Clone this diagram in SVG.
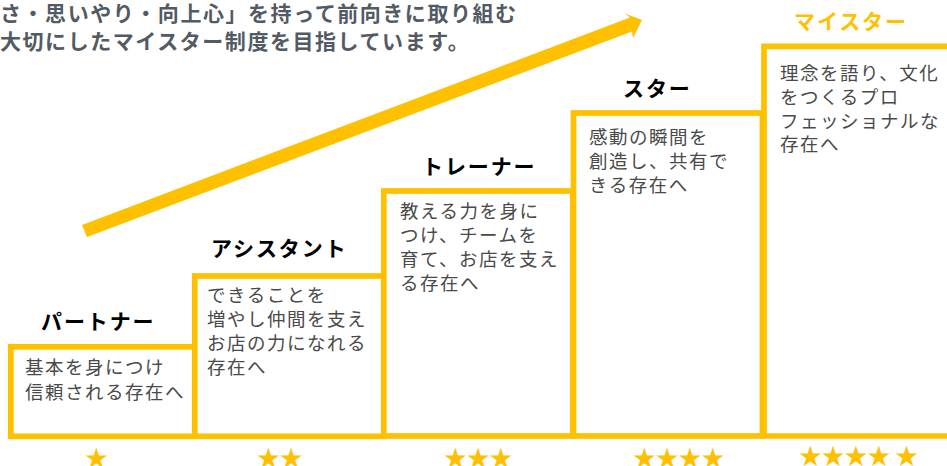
<svg xmlns="http://www.w3.org/2000/svg" width="947" height="466" viewBox="0 0 947 466">
<style>
text{font-family:"Noto Sans CJK JP","Noto Sans",sans-serif}
.box{fill:#fff;stroke:#ffc000;stroke-width:5.7}
.b{font-size:18.500px;letter-spacing:1.5px;fill:#4a4a4a}
.t{font-size:21px;font-weight:700;letter-spacing:1.900px;fill:#000}
.h{font-size:21px;font-weight:700;letter-spacing:1.550px;fill:#525a63}
.s{font-size:22.800px;fill:#ffc000}
</style>
<rect width="947" height="466" fill="#fff"/>
<g id="intro"><text class="h" x="0" y="21">さ・思いやり・向上心」を持って前向きに取り組む</text><text class="h" x="0" y="49">大切にしたマイスター制度を目指しています。</text></g>
<g id="connectors"><path d="M82 225L630 17.500L625 13.500L642 20L633 38L632 31.500L87 237Z" fill="#ffc000"/></g>
<g id="partner"><rect class="box" x="10.800" y="346.800" width="184" height="89.500"/><text class="t" x="41" y="329">パートナー</text><text class="b" x="25" y="374">基本を身につけ</text><text class="b" x="25" y="399">信頼される存在へ</text><text class="s" x="85" y="466">★</text></g>
<g id="assistant"><rect class="box" x="194.800" y="276" width="189" height="160.300"/><text class="t" x="211" y="256">アシスタント</text><text class="b" x="207" y="302">できることを</text><text class="b" x="207" y="326">増やし仲間を支え</text><text class="b" x="207" y="350">お店の力になれる</text><text class="b" x="207" y="374">存在へ</text><text class="s" x="257" y="466">★★</text></g>
<g id="trainer"><rect class="box" x="383.800" y="191" width="189" height="245"/><text class="t" x="422" y="174">トレーナー</text><text class="b" x="400" y="218">教える力を身に</text><text class="b" x="400" y="242">つけ、チームを</text><text class="b" x="400" y="266">育て、お店を支え</text><text class="b" x="400" y="290">る存在へ</text><text class="s" x="444" y="466">★★★</text></g>
<g id="star"><rect class="box" x="573.500" y="113" width="189" height="323"/><text class="t" x="623" y="96">スター</text><text class="b" x="589" y="144">感動の瞬間を</text><text class="b" x="589" y="168">創造し、共有で</text><text class="b" x="589" y="192">きる存在へ</text><text class="s" x="633" y="466">★★★★</text></g>
<g id="meister"><path class="box" d="M947 46.300H764V436H947"/><text class="t" x="794" y="29" style="fill:#ffc000">マイスター</text><text class="b" x="780" y="80">理念を語り、文化</text><text class="b" x="780" y="104">をつくるプロ</text><text class="b" x="780" y="128">フェッショナルな</text><text class="b" x="780" y="151">存在へ</text><text class="s" x="799" y="464">★★★★ ★</text></g>
</svg>
